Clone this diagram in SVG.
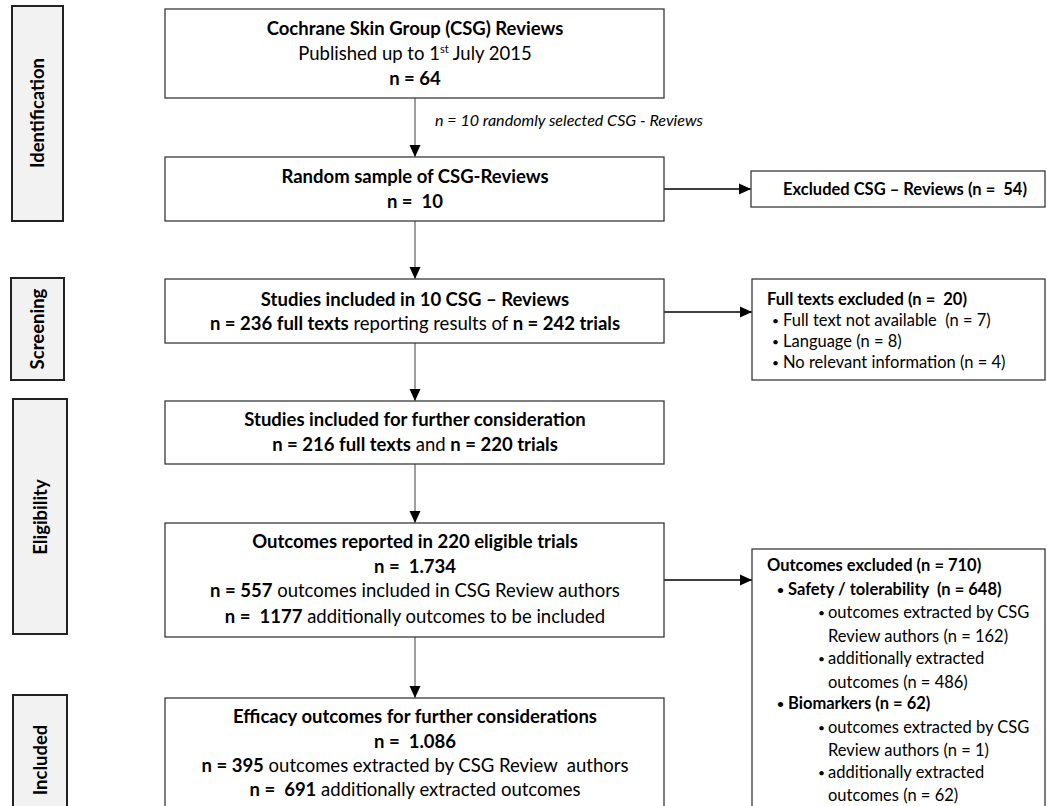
<svg xmlns="http://www.w3.org/2000/svg" width="1047" height="806" viewBox="0 0 1047 806">
<style>
text{font-family:Lato,"Liberation Sans",sans-serif;fill:#000}
.side rect{fill:#f2f2f2;stroke:#222;stroke-width:2}
.side text{font-weight:bold;font-size:18.5px;text-anchor:middle}
.box{fill:#fff;stroke:#3a3a3a;stroke-width:1.3}
.m{font-size:18.5px;text-anchor:middle}
.r{font-size:16.5px}
.d{font-size:12px}
.b{font-weight:bold}
.vline{stroke:#7f7f7f;stroke-width:1.5;fill:none}
.hline{stroke:#000;stroke-width:1.3;fill:none}
.lbl{font-size:15.5px;font-style:italic}
</style>
<defs>
<marker id="ah" markerUnits="userSpaceOnUse" markerWidth="12" markerHeight="12" viewBox="0 0 12 12" refX="12" refY="6" orient="auto">
<path d="M0,0.5 L12,6 L0,11.5 Z" fill="#000"/>
</marker>
</defs>

<g id="side-identification" class="side"><rect x="12" y="6" width="51" height="215"/><text transform="translate(44,113) rotate(-90)">Identification</text></g>
<g id="side-screening" class="side"><rect x="11" y="278" width="53" height="102"/><text transform="translate(44,329) rotate(-90)">Screening</text></g>
<g id="side-eligibility" class="side"><rect x="13" y="399" width="54" height="235"/><text transform="translate(47,517) rotate(-90)">Eligibility</text></g>
<g id="side-included" class="side"><rect x="13" y="695" width="54" height="120"/><text transform="translate(47,760) rotate(-90)">Included</text></g>

<g id="connectors">
<line class="vline" x1="415" y1="98" x2="415" y2="157" marker-end="url(#ah)"/>
<text class="lbl" x="435" y="126" textLength="268" lengthAdjust="spacingAndGlyphs">n = 10 randomly selected CSG - Reviews</text>
<line class="hline" x1="664" y1="189" x2="751" y2="189" marker-end="url(#ah)"/>
<line class="vline" x1="415" y1="221" x2="415" y2="279" marker-end="url(#ah)"/>
<line class="hline" x1="664" y1="312" x2="752" y2="312" marker-end="url(#ah)"/>
<line class="vline" x1="415" y1="343" x2="415" y2="401" marker-end="url(#ah)"/>
<line class="vline" x1="415" y1="464" x2="415" y2="523" marker-end="url(#ah)"/>
<line class="hline" x1="664" y1="580" x2="752" y2="580" marker-end="url(#ah)"/>
<line class="vline" x1="415" y1="637" x2="415" y2="698" marker-end="url(#ah)"/>
</g>

<g id="n1"><rect class="box" x="165" y="9" width="499" height="89"/>
<text class="m b" x="415" y="35">Cochrane Skin Group (CSG) Reviews</text>
<text class="m" x="415" y="60">Published up to 1<tspan font-size="11" dy="-7">st</tspan><tspan dy="7"> July 2015</tspan></text>
<text class="m b" x="415" y="85">n = 64</text></g>

<g id="n2"><rect class="box" x="165" y="157" width="499" height="64"/>
<text class="m b" x="415" y="183">Random sample of CSG-Reviews</text>
<text class="m b" x="415" y="208" xml:space="preserve">n =  10</text></g>

<g id="n3"><rect class="box" x="165" y="279" width="499" height="64"/>
<text class="m b" x="415" y="306">Studies included in 10 CSG – Reviews</text>
<text class="m" x="415" y="330"><tspan class="b">n = 236 full texts</tspan> reporting results of <tspan class="b">n = 242 trials</tspan></text></g>

<g id="n4"><rect class="box" x="165" y="401" width="499" height="63"/>
<text class="m b" x="415" y="426">Studies included for further consideration</text>
<text class="m" x="415" y="451"><tspan class="b">n = 216 full texts</tspan> and <tspan class="b">n = 220 trials</tspan></text></g>

<g id="n5"><rect class="box" x="165" y="523" width="499" height="114"/>
<text class="m b" x="415" y="548">Outcomes reported in 220 eligible trials</text>
<text class="m b" x="415" y="573" xml:space="preserve">n =  1.734</text>
<text class="m" x="415" y="597"><tspan class="b">n = 557</tspan> outcomes included in CSG Review authors</text>
<text class="m" x="415" y="623" xml:space="preserve"><tspan class="b">n =  1177</tspan> additionally outcomes to be included</text></g>

<g id="n6"><rect class="box" x="165" y="698" width="499" height="120"/>
<text class="m b" x="415" y="723">Efficacy outcomes for further considerations</text>
<text class="m b" x="415" y="748" xml:space="preserve">n =  1.086</text>
<text class="m" x="415" y="772" xml:space="preserve"><tspan class="b">n = 395</tspan> outcomes extracted by CSG Review  authors</text>
<text class="m" x="415" y="796" xml:space="preserve"><tspan class="b">n =  691</tspan> additionally extracted outcomes</text></g>

<g id="x1"><rect class="box" x="751" y="171" width="294" height="36"/>
<text class="r b" x="905" y="195" text-anchor="middle" xml:space="preserve">Excluded CSG – Reviews (n =  54)</text></g>

<g id="x2"><rect class="box" x="752" y="279" width="293" height="101"/>
<text class="r b" x="767" y="305" xml:space="preserve">Full texts excluded (n =  20)</text>
<text class="d" x="772" y="325">•</text><text class="r" x="783" y="326" xml:space="preserve">Full text not available  (n = 7)</text>
<text class="d" x="772" y="346">•</text><text class="r" x="783" y="347">Language (n = 8)</text>
<text class="d" x="772" y="367">•</text><text class="r" x="783" y="368">No relevant information (n = 4)</text></g>

<g id="x3"><rect class="box" x="752" y="549" width="293" height="270"/>
<text class="r b" x="767" y="571">Outcomes excluded (n = 710)</text>
<text class="d b" x="777" y="594">•</text><text class="r b" x="788" y="595" xml:space="preserve">Safety / tolerability  (n = 648)</text>
<text class="d" x="818" y="617">•</text><text class="r" x="828" y="618">outcomes extracted by CSG</text>
<text class="r" x="828" y="642">Review authors (n = 162)</text>
<text class="d" x="818" y="663">•</text><text class="r" x="828" y="664">additionally extracted</text>
<text class="r" x="828" y="688">outcomes (n = 486)</text>
<text class="d b" x="777" y="708">•</text><text class="r b" x="788" y="709">Biomarkers (n = 62)</text>
<text class="d" x="818" y="732">•</text><text class="r" x="828" y="733">outcomes extracted by CSG</text>
<text class="r" x="828" y="756">Review authors (n = 1)</text>
<text class="d" x="818" y="777">•</text><text class="r" x="828" y="778">additionally extracted</text>
<text class="r" x="828" y="801">outcomes (n = 62)</text></g>
</svg>
